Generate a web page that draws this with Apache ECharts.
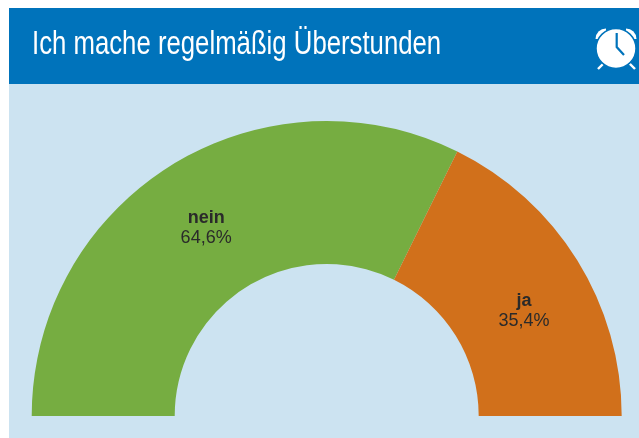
<!DOCTYPE html>
<html><head><meta charset="utf-8">
<style>html,body{margin:0;padding:0;background:#fff}#c{width:639px;height:438px}</style>
<script src="https://cdn.jsdelivr.net/npm/echarts@6/dist/echarts.min.js"></script>
</head><body><div id="c"></div>
<script>
const titleText = 'Ich mache regelmäßig Überstunden';
const categories = ['nein', 'ja'];
const values = [64.6, 35.4];
const colors = ['#76AD41', '#D1701B'];
const labelOffsets = [[-1, 4], [5, 15]];
const fontFam = '"Liberation Sans",sans-serif';
const HEADER = '#0073BB', PANEL = '#CCE3F1';
const chart = echarts.init(document.getElementById('c'), null, {renderer: 'canvas'});
chart.setOption({
  animation: false,
  backgroundColor: '#fff',
  graphic: {elements: [
    {type:'rect', z:-10, silent:true, shape:{x:9,y:8,width:630,height:76}, style:{fill:HEADER}},
    {type:'rect', z:-10, silent:true, shape:{x:9,y:84,width:630,height:354}, style:{fill:PANEL}},
    {type:'text', z:5, x:32, y:28, scaleX:0.78, style:{text:titleText, x:0, y:0, fill:'#fff', font:'normal 33px "Liberation Sans",sans-serif'}},
    {type:'sector', z:5, shape:{cx:606,cy:39,r0:0,r:10.5,startAngle:Math.PI,endAngle:Math.PI*1.5}, style:{fill:'#fff'}},
    {type:'sector', z:5, shape:{cx:626,cy:39,r0:0,r:10.5,startAngle:Math.PI*1.5,endAngle:Math.PI*2}, style:{fill:'#fff'}},
    {type:'circle', z:6, shape:{cx:616,cy:48.5,r:20}, style:{fill:'#fff',stroke:HEADER,lineWidth:1.5}},
    {type:'polyline', z:7, shape:{points:[[616.7,33],[616.7,47],[624,55]]}, style:{stroke:HEADER,lineWidth:2.2,fill:null}},
    {type:'line', z:5, shape:{x1:598,y1:69,x2:605,y2:62}, style:{stroke:'#fff',lineWidth:2.4}},
    {type:'line', z:5, shape:{x1:635,y1:69,x2:628,y2:62}, style:{stroke:'#fff',lineWidth:2.4}}
  ]},
  series: [{
    type: 'pie',
    center: [326.7, 416],
    radius: [152, 295],
    startAngle: 180,
    endAngle: 0,
    silent: true,
    avoidLabelOverlap: false,
    labelLine: {show: false},
    label: {
      show: true, position: 'inside', color: '#2a2a2a', fontFamily: fontFam,
      formatter: p => '{n|' + p.name + '}\n{v|' + p.value.toFixed(1).replace('.', ',') + '%}',
      rich: {
        n: {fontFamily: fontFam, fontWeight: 'bold', fontSize: 18, lineHeight: 20, color: '#2a2a2a', align:'center'},
        v: {fontFamily: fontFam, fontSize: 18, lineHeight: 20, color: '#2a2a2a', align:'center'}
      }
    },
    data: categories.map((name, i) => ({
      name, value: values[i],
      itemStyle: {color: colors[i]},
      label: {offset: labelOffsets[i]}
    }))
  }]
});
</script></body></html>
